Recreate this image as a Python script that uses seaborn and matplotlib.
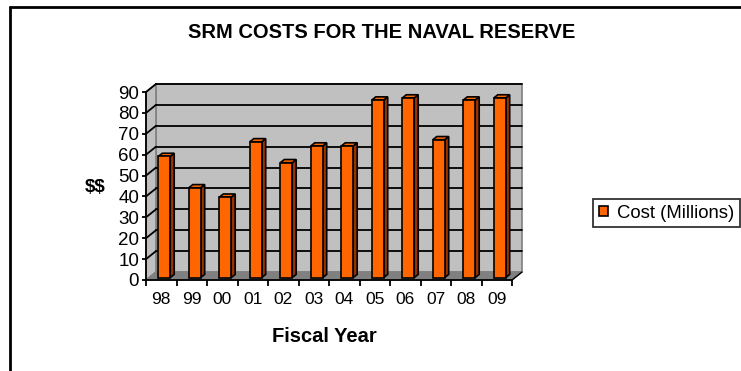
import matplotlib
matplotlib.use("Agg")
import matplotlib.pyplot as plt
import seaborn as sns
import pandas as pd
from matplotlib.patches import Polygon, Patch
from matplotlib.lines import Line2D

years = ["98", "99", "00", "01", "02", "03", "04", "05", "06", "07", "08", "09"]
costs = [58, 43, 38.5, 65, 55, 63, 63, 85, 86, 66, 85, 86]
y_ticks = [0, 10, 20, 30, 40, 50, 60, 70, 80, 90]
title = "SRM COSTS FOR THE NAVAL RESERVE"
x_label = "Fiscal Year"
y_label = "$$"
series_name = "Cost (Millions)"

sns.set_theme(style="white")
plt.rcParams["font.family"] = ["Liberation Sans", "DejaVu Sans"]
plt.rcParams["text.color"] = "black"
plt.rcParams["xtick.color"] = "black"
plt.rcParams["ytick.color"] = "black"

W, H = 741, 371
fig = plt.figure(figsize=(W / 100, H / 100), dpi=100)
fig.patch.set_facecolor("white")

# chart border (cut at right/bottom)
fig.add_artist(Line2D([10 / W, 10 / W], [0, 1 - 7 / H], color="black", lw=2,
                      transform=fig.transFigure))
fig.add_artist(Line2D([10 / W, 1], [1 - 7 / H, 1 - 7 / H], color="black", lw=2,
                      transform=fig.transFigure))

# axes: front plane
L, R, B, T = 146, 512, 280, 92
ax = fig.add_axes([L / W, (H - B) / H, (R - L) / W, (B - T) / H])
n = len(years)
ax.set_xlim(-0.5, n - 0.5)
ax.set_ylim(0, 90)
ax.patch.set_alpha(0)

pxx = (R - L) / n          # px per category
pxy = (B - T) / 90.0       # px per unit
DX, DY = 10, 8             # full depth offset in px


def off(d):
    return d * DX / pxx, d * DY / pxy


ox, oy = off(1)
x0, x1 = -0.5, n - 0.5
# back wall
ax.add_patch(Polygon([(x0 + ox, oy), (x1 + ox, oy), (x1 + ox, 90 + oy), (x0 + ox, 90 + oy)],
                     closed=True, facecolor="#C0C0C0", edgecolor="#808080", lw=1.2, zorder=0,
                     clip_on=False))
# left side wall
ax.add_patch(Polygon([(x0, 0), (x0 + ox, oy), (x0 + ox, 90 + oy), (x0, 90)],
                     closed=True, facecolor="#C0C0C0", edgecolor="#808080", lw=1.2, zorder=0,
                     clip_on=False))
# floor
ax.add_patch(Polygon([(x0, 0), (x1, 0), (x1 + ox, oy), (x0 + ox, oy)],
                     closed=True, facecolor="#808080", edgecolor="#808080", lw=1, zorder=0.5,
                     clip_on=False))
ax.plot([x1, x1 + ox], [0, oy], color="black", lw=1, zorder=0.6, clip_on=False)
# gridlines
for v in y_ticks[1:]:
    ax.plot([x0 + ox, x1 + ox], [v + oy, v + oy], color="black", lw=1.3, zorder=0.4,
            clip_on=False)
    ax.plot([x0, x0 + ox], [v, v + oy], color="black", lw=1.3, zorder=0.4, clip_on=False)

# bars via seaborn
df = pd.DataFrame({"year": years, "cost": costs})
sns.barplot(data=df, x="year", y="cost", ax=ax, color="#FF6600", saturation=1,
            width=0.39, edgecolor="black", linewidth=1.2, zorder=2)
ax.set_xlim(-0.5, n - 0.5)
ax.set_ylim(0, 90)

fx, fy = off(0.3)
dx, dy = off(0.4)
for p in list(ax.patches):
    if not hasattr(p, "get_width") or p.get_zorder() != 2:
        continue
    p.set_x(p.get_x() + fx)
    p.set_y(fy)
    p.set_clip_on(False)
    xa = p.get_x()
    xb = xa + p.get_width()
    yt = fy + p.get_height()
    ax.add_patch(Polygon([(xb, fy), (xb + dx, fy + dy), (xb + dx, yt + dy), (xb, yt)],
                         closed=True, facecolor="#993300", edgecolor="black", lw=1.2,
                         zorder=1.9, clip_on=False))
    ax.add_patch(Polygon([(xa, yt), (xb, yt), (xb + dx, yt + dy), (xa + dx, yt + dy)],
                         closed=True, facecolor="#FF6600", edgecolor="black", lw=1.2,
                         zorder=1.9, clip_on=False))

# axes styling
for s in ["top", "right"]:
    ax.spines[s].set_visible(False)
for s in ["left", "bottom"]:
    ax.spines[s].set_visible(True)
    ax.spines[s].set_color("black")
    ax.spines[s].set_linewidth(1.3)
    ax.spines[s].set_zorder(3)

ax.set_yticks(y_ticks)
ax.set_yticklabels([str(v) for v in y_ticks], fontsize=13.5)
ax.set_xticks([i - 0.5 for i in range(n + 1)], minor=False)
ax.set_xticklabels([""] * (n + 1))
ax.set_xticks(range(n), minor=True)
ax.set_xticklabels(years, minor=True, fontsize=12.5)
ax.tick_params(axis="x", which="major", direction="out", length=4, width=1.3, color="black",
               bottom=True)
ax.tick_params(axis="x", which="minor", length=0, pad=9, bottom=True)
ax.tick_params(axis="y", direction="out", length=3, width=1.3, color="black", pad=2, left=True)
ax.set_xlabel("")
ax.set_ylabel("")

fig.text(382 / W, 1 - 32 / H, title, ha="center", va="center", fontsize=14.5,
         fontweight="bold")
fig.text(324 / W, 1 - 337 / H, x_label, ha="center", va="center", fontsize=14.5,
         fontweight="bold")
fig.text(95 / W, 1 - 188 / H, y_label, ha="center", va="center", fontsize=13.5,
         fontweight="bold", parse_math=False)

handle = Patch(facecolor="#FF6600", edgecolor="black", linewidth=1.2)
leg = fig.legend([handle], [series_name], loc="upper left",
                 bbox_to_anchor=(593 / W, 1 - 199 / H), frameon=True, fancybox=False,
                 fontsize=13.3, handlelength=0.5, handleheight=0.5, handletextpad=0.5,
                 borderpad=0.3, borderaxespad=0)
leg.get_frame().set_edgecolor("black")
leg.get_frame().set_linewidth(1.3)

fig.savefig("out.png", dpi=100)
